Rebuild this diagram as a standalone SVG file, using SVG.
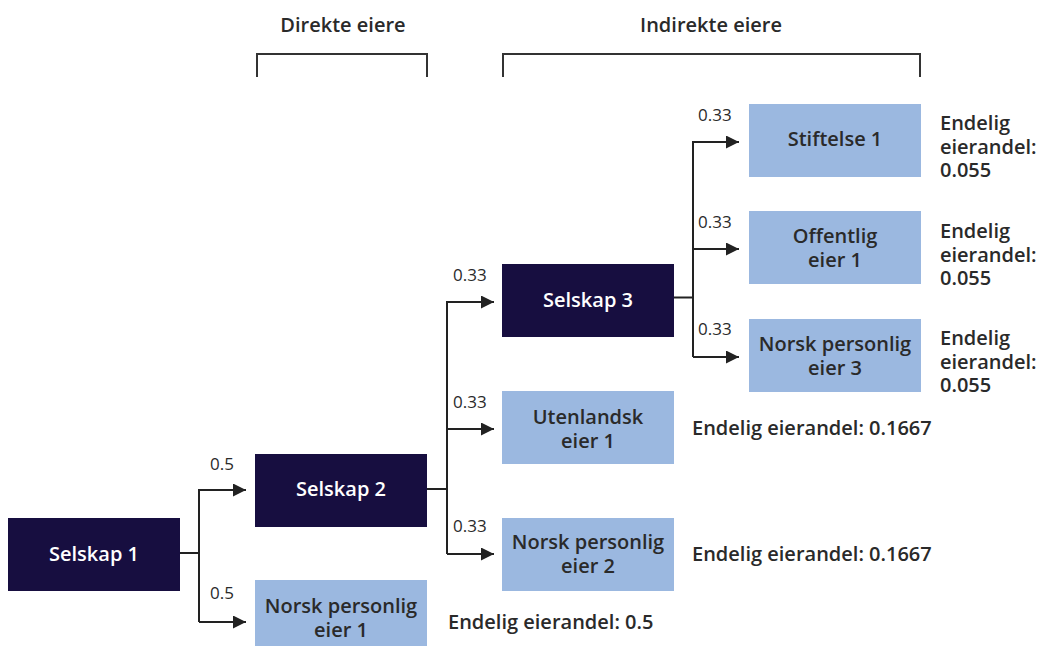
<svg xmlns="http://www.w3.org/2000/svg" width="1037" height="646" viewBox="0 0 1037 646">
<defs>
<marker id="arr" markerUnits="userSpaceOnUse" markerWidth="13" markerHeight="13" refX="13" refY="6.5" orient="auto">
<path d="M0,0 L13,6.5 L0,13 z" fill="#222"/>
</marker>
<style>
.dark{fill:#170e40}
.light{fill:#9bb8e0}
.t{font-family:"Open Sans","Liberation Sans",sans-serif;font-weight:600;font-size:20px;text-anchor:middle}
.tw{fill:#ffffff}
.tb{fill:#2a2a2a}
.lab{font-family:"Open Sans","Liberation Sans",sans-serif;font-weight:600;font-size:20px;fill:#2a2a2a}
.num{font-family:"Open Sans","Liberation Sans",sans-serif;font-weight:400;font-size:17px;fill:#2a2a2a}
.ln{fill:none;stroke:#222;stroke-width:2}
.br{fill:none;stroke:#333;stroke-width:2}
</style>
</defs>
<rect width="1037" height="646" fill="#ffffff"/>
<g id="headers">
<text class="lab" x="343" y="32" text-anchor="middle">Direkte eiere</text>
<text class="lab" x="711" y="32" text-anchor="middle">Indirekte eiere</text>
<path class="br" d="M257,77 V54 H427 V77"/>
<path class="br" d="M503,77 V54 H920 V77"/>
</g>
<g id="connectors">
<path class="ln" d="M180,553 H199 V622"/>
<path class="ln" d="M199,553 V490 H246" marker-end="url(#arr)"/>
<path class="ln" d="M199,622 H246" marker-end="url(#arr)"/>
<path class="ln" d="M427,489 H447 V554"/>
<path class="ln" d="M447,489 V302 H494" marker-end="url(#arr)"/>
<path class="ln" d="M447,429 H494" marker-end="url(#arr)"/>
<path class="ln" d="M447,554 H494" marker-end="url(#arr)"/>
<path class="ln" d="M674,297.5 H693 V357"/>
<path class="ln" d="M693,297.5 V142 H739" marker-end="url(#arr)"/>
<path class="ln" d="M693,249 H739" marker-end="url(#arr)"/>
<path class="ln" d="M693,357 H739" marker-end="url(#arr)"/>
<text class="num" x="210" y="470">0.5</text>
<text class="num" x="210" y="599">0.5</text>
<text class="num" x="453" y="281">0.33</text>
<text class="num" x="453" y="408">0.33</text>
<text class="num" x="453" y="532">0.33</text>
<text class="num" x="698" y="121">0.33</text>
<text class="num" x="698" y="228">0.33</text>
<text class="num" x="698" y="335">0.33</text>
</g>
<g id="selskap1">
<rect class="dark" x="8" y="518" width="172" height="73"/>
<text class="t tw" x="94" y="561">Selskap 1</text>
</g>
<g id="selskap2">
<rect class="dark" x="255" y="454" width="172" height="73"/>
<text class="t tw" x="341" y="496">Selskap 2</text>
</g>
<g id="norsk1">
<rect class="light" x="255" y="580" width="172" height="73"/>
<text class="t tb" x="341" y="613">Norsk personlig</text>
<text class="t tb" x="341" y="637">eier 1</text>
<text class="lab" x="448" y="629">Endelig eierandel: 0.5</text>
</g>
<g id="selskap3">
<rect class="dark" x="502" y="264" width="172" height="73"/>
<text class="t tw" x="588" y="307">Selskap 3</text>
</g>
<g id="utenlandsk1">
<rect class="light" x="502" y="391" width="172" height="73"/>
<text class="t tb" x="588" y="424">Utenlandsk</text>
<text class="t tb" x="588" y="448">eier 1</text>
<text class="lab" x="692" y="435">Endelig eierandel: 0.1667</text>
</g>
<g id="norsk2">
<rect class="light" x="502" y="518" width="172" height="73"/>
<text class="t tb" x="588" y="549">Norsk personlig</text>
<text class="t tb" x="588" y="573">eier 2</text>
<text class="lab" x="692" y="561">Endelig eierandel: 0.1667</text>
</g>
<g id="stiftelse1">
<rect class="light" x="749" y="104" width="172" height="73"/>
<text class="t tb" x="835" y="146">Stiftelse 1</text>
<text class="lab" x="940" y="130">Endelig</text>
<text class="lab" x="940" y="153.5">eierandel:</text>
<text class="lab" x="940" y="177">0.055</text>
</g>
<g id="offentlig1">
<rect class="light" x="749" y="211" width="172" height="73"/>
<text class="t tb" x="835" y="243">Offentlig</text>
<text class="t tb" x="835" y="267">eier 1</text>
<text class="lab" x="940" y="238">Endelig</text>
<text class="lab" x="940" y="261.5">eierandel:</text>
<text class="lab" x="940" y="285">0.055</text>
</g>
<g id="norsk3">
<rect class="light" x="749" y="319" width="172" height="73"/>
<text class="t tb" x="835" y="351">Norsk personlig</text>
<text class="t tb" x="835" y="375">eier 3</text>
<text class="lab" x="940" y="345">Endelig</text>
<text class="lab" x="940" y="368.5">eierandel:</text>
<text class="lab" x="940" y="392">0.055</text>
</g>
</svg>
